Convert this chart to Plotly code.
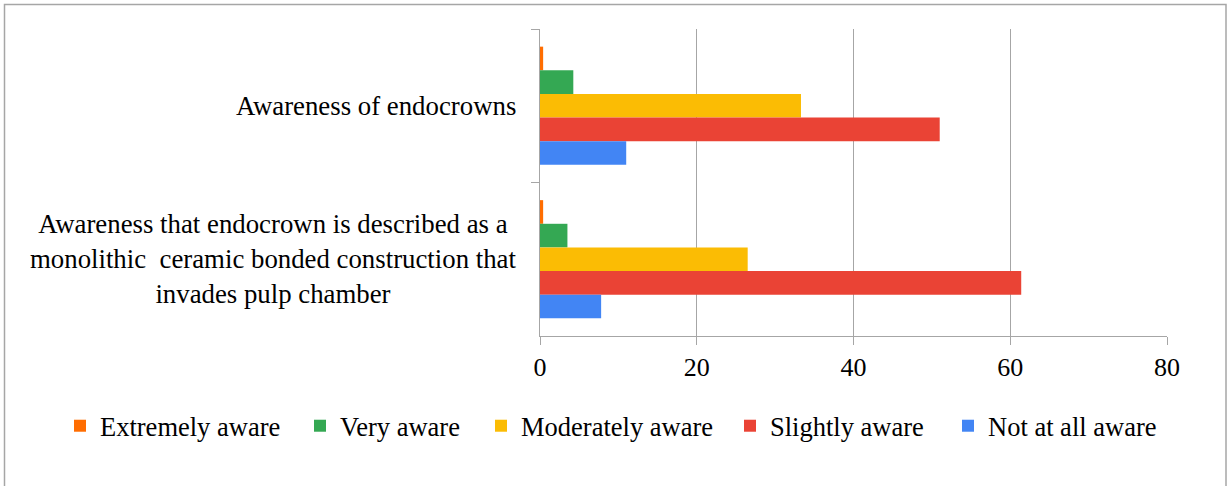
import plotly.graph_objects as go

categories = [
    "Awareness of endocrowns",
    "Awareness that endocrown is described as a<br>monolithic  ceramic bonded construction that<br>invades pulp chamber",
]
series_names = ["Extremely aware", "Very aware", "Moderately aware", "Slightly aware", "Not at all aware"]
extremely = [0.4, 0.4]
very = [4.25, 3.5]
moderately = [33.3, 26.5]
slightly = [51.0, 61.4]
not_at_all = [11.0, 7.8]
colors = ["#ff6d01", "#34a853", "#fbbc04", "#ea4335", "#4285f4"]
x_ticks = [0, 20, 40, 60, 80]
# left pixel of each legend entry's text in the reference
legend_text_px = [100, 340, 521, 770, 988]

FONT = "Times New Roman, Liberation Serif, DejaVu Serif, serif"
GRID = "#a6a6a6"
PL, PR, PT, PB = 540, 1167, 29, 336
PW, PH = PR - PL, PB - PT

fig = go.Figure()
legend_layouts = {}
for i, (name, vals, col) in enumerate(zip(series_names, [extremely, very, moderately, slightly, not_at_all], colors)):
    lg = "legend" if i == 0 else f"legend{i + 1}"
    fig.add_trace(go.Bar(
        y=categories, x=vals, name=name, orientation="h",
        marker=dict(color=col, line=dict(width=0)),
        legend=lg,
    ))
    legend_layouts[lg] = dict(
        orientation="h", xref="paper", yref="paper",
        x=(legend_text_px[i] - 40 - PL) / PW, xanchor="left",
        y=(PB - 426) / PH, yanchor="middle",
        font=dict(family=FONT, size=26.5, color="#000000"),
        itemclick=False, itemdoubleclick=False, bgcolor="rgba(0,0,0,0)",
    )

for cat in categories:
    fig.add_annotation(
        x=0, xref="paper", y=cat, yref="y",
        text=cat, showarrow=False, xanchor="right", yanchor="middle",
        align="center", xshift=-22,
        font=dict(family=FONT, size=26.8, color="#000000"),
    )

fig.update_layout(
    width=1229, height=486,
    margin=dict(l=PL, r=1229 - PR, t=PT, b=486 - PB, autoexpand=False),
    paper_bgcolor="white", plot_bgcolor="white",
    barmode="group", bargap=0.23, bargroupgap=0,
    font=dict(family=FONT, size=26, color="#000000"),
    showlegend=True,
    xaxis=dict(
        range=[0, 80], tickvals=x_ticks, ticktext=[str(v) for v in x_ticks],
        showgrid=True, gridcolor=GRID, gridwidth=1.3,
        showline=True, linecolor=GRID, linewidth=1.3,
        ticks="outside", ticklen=8, tickcolor=GRID, tickwidth=1.3,
        zeroline=False,
        tickfont=dict(family=FONT, size=26, color="#000000"),
    ),
    yaxis=dict(
        autorange="reversed", showticklabels=False,
        showline=True, linecolor=GRID, linewidth=1.3,
        ticks="outside", ticklen=8, tickcolor=GRID, tickwidth=1.3,
        tickson="boundaries", showgrid=False, zeroline=False,
    ),
    shapes=[dict(
        type="rect", xref="paper", yref="paper",
        x0=(4.5 - PL) / PW, x1=(1226 - PL) / PW,
        y0=(PB - 495) / PH, y1=(PB - 4.5) / PH,
        line=dict(color="#a6a6a6", width=1.5), fillcolor="rgba(0,0,0,0)",
        layer="below",
    )],
    **legend_layouts,
)

fig.write_html(
    "out.html",
    config={"displayModeBar": False},
    post_script="document.body.style.margin='0';",
)
